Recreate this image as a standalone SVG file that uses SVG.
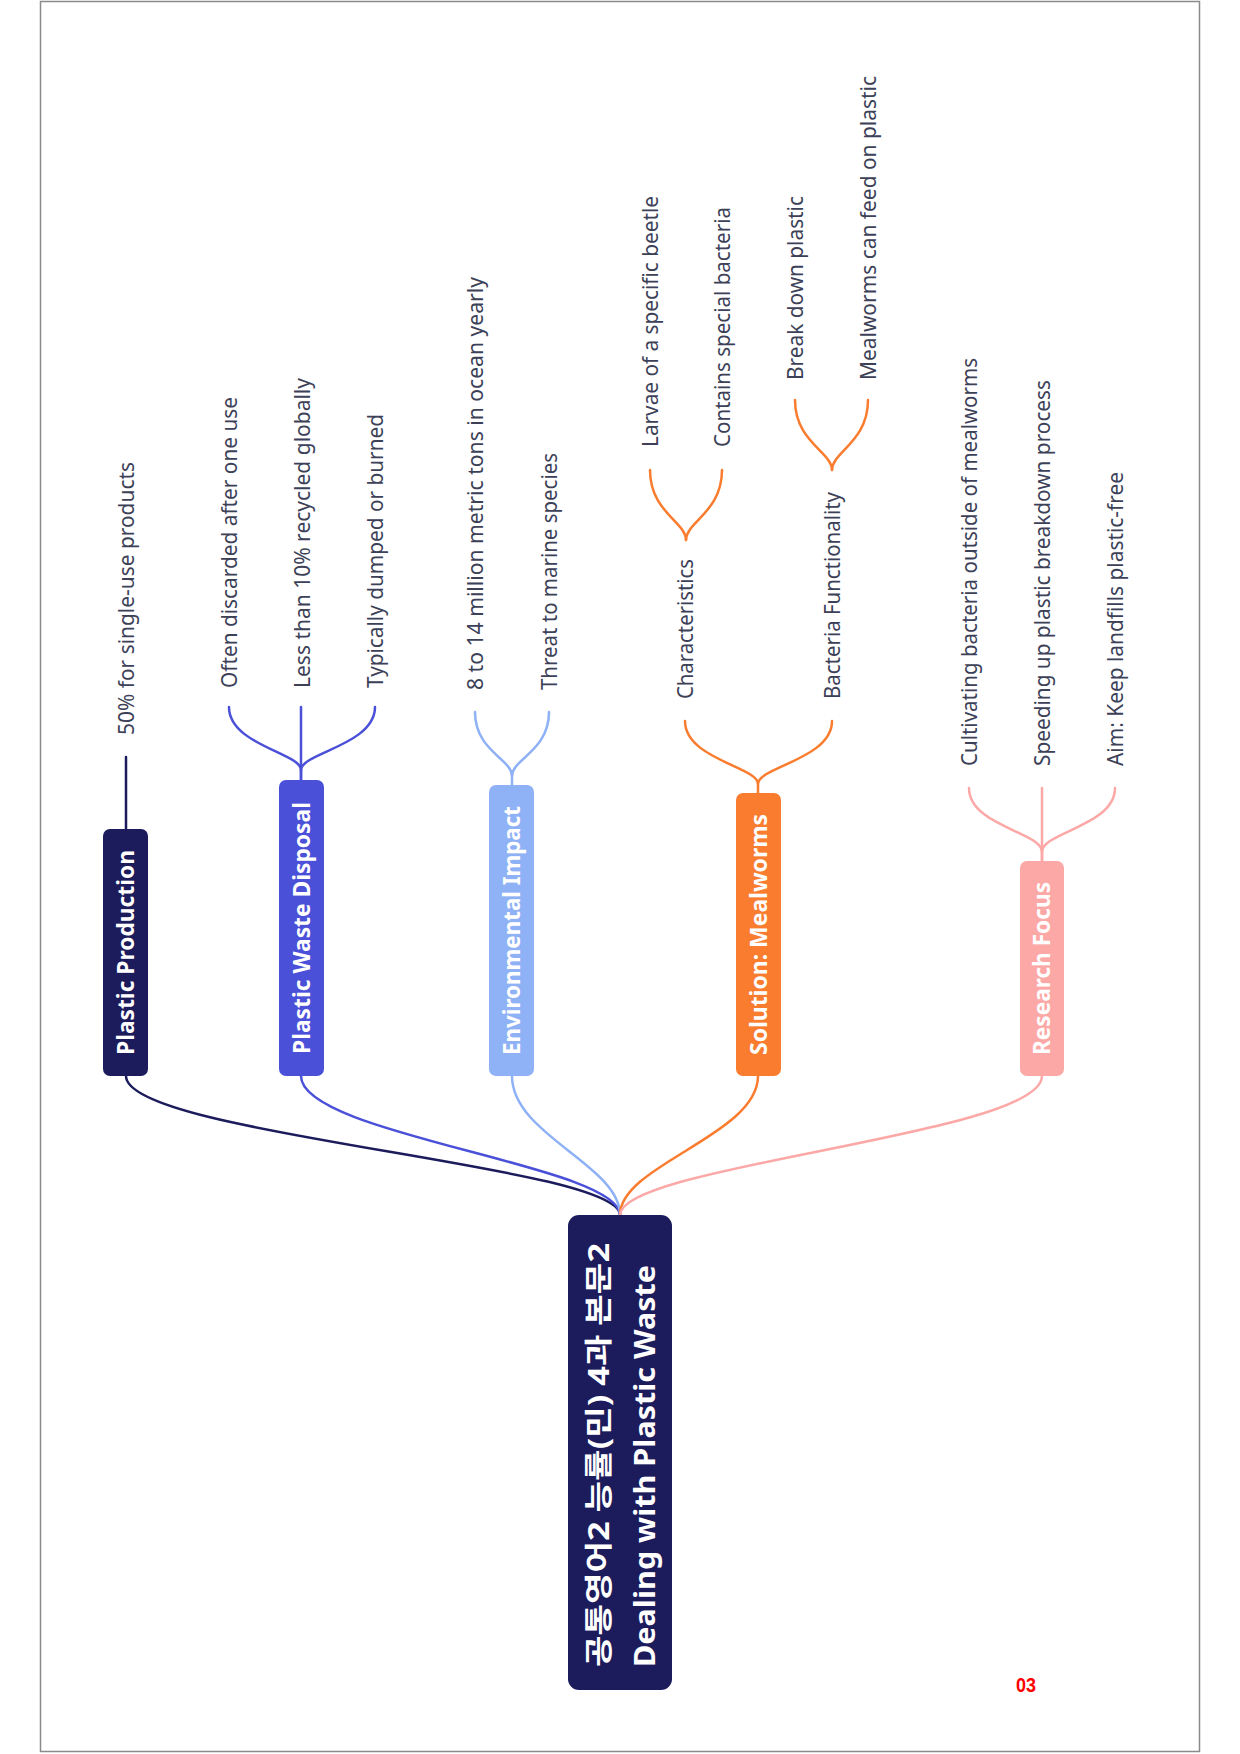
<svg xmlns="http://www.w3.org/2000/svg" width="1240" height="1754" viewBox="0 0 1240 1754">
<style>
.node-t{font-family:"Noto Sans","Noto Sans CJK KR",sans-serif;font-weight:bold;fill:#ffffff;font-size:23px}
.root-t{font-family:"Noto Sans","Noto Sans CJK KR",sans-serif;font-weight:bold;fill:#ffffff;font-size:28px}
.leaf{font-family:"Noto Sans","Noto Sans CJK KR",sans-serif;fill:#3c4157;font-size:21px}
.c{fill:none;stroke-width:2.5;stroke-linecap:round}
.navy{stroke:#1c1b5c}.blue{stroke:#4a50d8}.lblue{stroke:#8fb1f6}.orange{stroke:#f97c2f}.pink{stroke:#fca8a6}
</style>
<rect x="0" y="0" width="1240" height="1754" fill="#ffffff"/>
<rect x="40.5" y="1.5" width="1159" height="1750" fill="none" stroke="#8a8a8a" stroke-width="1.5"/>

<g id="connectors">
  <path class="c navy" d="M620,1215 C620,1165 126,1135 126,1076"/>
  <path class="c blue" d="M620,1215 C620,1165 301,1135 301,1076"/>
  <path class="c lblue" d="M620,1215 C620,1165 512,1135 512,1076"/>
  <path class="c orange" d="M620,1215 C620,1165 758,1135 758,1076"/>
  <path class="c pink" d="M620,1215 C620,1165 1042,1135 1042,1076"/>

  <path class="c navy" d="M126,829 L126,757"/>

  <path class="c blue" d="M301,780 L301,770 C301,753 229,745 229,707"/>
  <path class="c blue" d="M301,780 L301,707"/>
  <path class="c blue" d="M301,770 C301,753 375,745 375,707"/>

  <path class="c lblue" d="M512,785 L512,776 C512,759 475,751 475,712"/>
  <path class="c lblue" d="M512,776 C512,759 549,751 549,712"/>

  <path class="c orange" d="M758,793 L758,784 C758,767 685,759 685,721"/>
  <path class="c orange" d="M758,784 C758,767 832,759 832,721"/>

  <path class="c orange" d="M686,540 C686,522 650,512 650,470"/>
  <path class="c orange" d="M686,540 C686,522 722,512 722,470"/>

  <path class="c orange" d="M832,470 C832,452 795,442 795,400"/>
  <path class="c orange" d="M832,470 C832,452 868,442 868,400"/>

  <path class="c pink" d="M1042,861 L1042,852 C1042,832 969,826 969,788"/>
  <path class="c pink" d="M1042,861 L1042,788"/>
  <path class="c pink" d="M1042,852 C1042,832 1115,826 1115,788"/>
</g>

<g id="root">
  <rect x="568" y="1215" width="104" height="475" rx="11" fill="#1c1b5c"/>
  <text class="root-t" transform="translate(609,1667) rotate(-90)" textLength="424" lengthAdjust="spacingAndGlyphs">공통영어2 능률(민) 4과 본문2</text>
  <text class="root-t" transform="translate(655,1667) rotate(-90)" textLength="402" lengthAdjust="spacingAndGlyphs">Dealing with Plastic Waste</text>
</g>

<g id="plastic-production">
  <rect x="103" y="829" width="45" height="247" rx="7" fill="#1c1b5c"/>
  <text class="node-t" text-anchor="middle" transform="translate(134,952.5) rotate(-90)" textLength="205" lengthAdjust="spacingAndGlyphs">Plastic Production</text>
</g>
<g id="plastic-waste-disposal">
  <rect x="279" y="780" width="45" height="296" rx="7" fill="#4a50d8"/>
  <text class="node-t" text-anchor="middle" transform="translate(309.5,928) rotate(-90)" textLength="252" lengthAdjust="spacingAndGlyphs">Plastic Waste Disposal</text>
</g>
<g id="environmental-impact">
  <rect x="489" y="785" width="45" height="291" rx="7" fill="#8fb1f6"/>
  <text class="node-t" text-anchor="middle" transform="translate(519.5,930.5) rotate(-90)" textLength="249" lengthAdjust="spacingAndGlyphs">Environmental Impact</text>
</g>
<g id="solution-mealworms">
  <rect x="736" y="793" width="45" height="283" rx="7" fill="#f97c2f"/>
  <text class="node-t" text-anchor="middle" transform="translate(766.5,934.5) rotate(-90)" textLength="241" lengthAdjust="spacingAndGlyphs">Solution: Mealworms</text>
</g>
<g id="research-focus">
  <rect x="1020" y="861" width="44" height="215" rx="7" fill="#fca8a6"/>
  <text class="node-t" text-anchor="middle" transform="translate(1050,968.5) rotate(-90)" textLength="173" lengthAdjust="spacingAndGlyphs">Research Focus</text>
</g>

<g id="leaf-pp1"><text class="leaf" transform="translate(134,735) rotate(-90)" textLength="273" lengthAdjust="spacingAndGlyphs">50% for single-use products</text></g>
<g id="leaf-pwd1"><text class="leaf" transform="translate(237,688) rotate(-90)" textLength="291" lengthAdjust="spacingAndGlyphs">Often discarded after one use</text></g>
<g id="leaf-pwd2"><text class="leaf" transform="translate(310,688) rotate(-90)" textLength="310" lengthAdjust="spacingAndGlyphs">Less than 10% recycled globally</text></g>
<g id="leaf-pwd3"><text class="leaf" transform="translate(383,688) rotate(-90)" textLength="274" lengthAdjust="spacingAndGlyphs">Typically dumped or burned</text></g>
<g id="leaf-ei1"><text class="leaf" transform="translate(483,690) rotate(-90)" textLength="413" lengthAdjust="spacingAndGlyphs">8 to 14 million metric tons in ocean yearly</text></g>
<g id="leaf-ei2"><text class="leaf" transform="translate(557,690) rotate(-90)" textLength="237" lengthAdjust="spacingAndGlyphs">Threat to marine species</text></g>
<g id="characteristics"><text class="leaf" transform="translate(693,699) rotate(-90)" textLength="140" lengthAdjust="spacingAndGlyphs">Characteristics</text></g>
<g id="bacteria-functionality"><text class="leaf" transform="translate(840,699) rotate(-90)" textLength="207" lengthAdjust="spacingAndGlyphs">Bacteria Functionality</text></g>
<g id="leaf-ch1"><text class="leaf" transform="translate(658,447) rotate(-90)" textLength="251" lengthAdjust="spacingAndGlyphs">Larvae of a specific beetle</text></g>
<g id="leaf-ch2"><text class="leaf" transform="translate(730,447) rotate(-90)" textLength="240" lengthAdjust="spacingAndGlyphs">Contains special bacteria</text></g>
<g id="leaf-bf1"><text class="leaf" transform="translate(803,380) rotate(-90)" textLength="184" lengthAdjust="spacingAndGlyphs">Break down plastic</text></g>
<g id="leaf-bf2"><text class="leaf" transform="translate(876,380) rotate(-90)" textLength="304" lengthAdjust="spacingAndGlyphs">Mealworms can feed on plastic</text></g>
<g id="leaf-rf1"><text class="leaf" transform="translate(977,766) rotate(-90)" textLength="408" lengthAdjust="spacingAndGlyphs">Cultivating bacteria outside of mealworms</text></g>
<g id="leaf-rf2"><text class="leaf" transform="translate(1050,766) rotate(-90)" textLength="386" lengthAdjust="spacingAndGlyphs">Speeding up plastic breakdown process</text></g>
<g id="leaf-rf3"><text class="leaf" transform="translate(1123,766) rotate(-90)" textLength="294" lengthAdjust="spacingAndGlyphs">Aim: Keep landfills plastic-free</text></g>

<text x="1026" y="1692" text-anchor="middle" font-family="Liberation Sans, sans-serif" font-weight="bold" font-size="20" fill="#ff0000" textLength="20" lengthAdjust="spacingAndGlyphs">03</text>
</svg>
